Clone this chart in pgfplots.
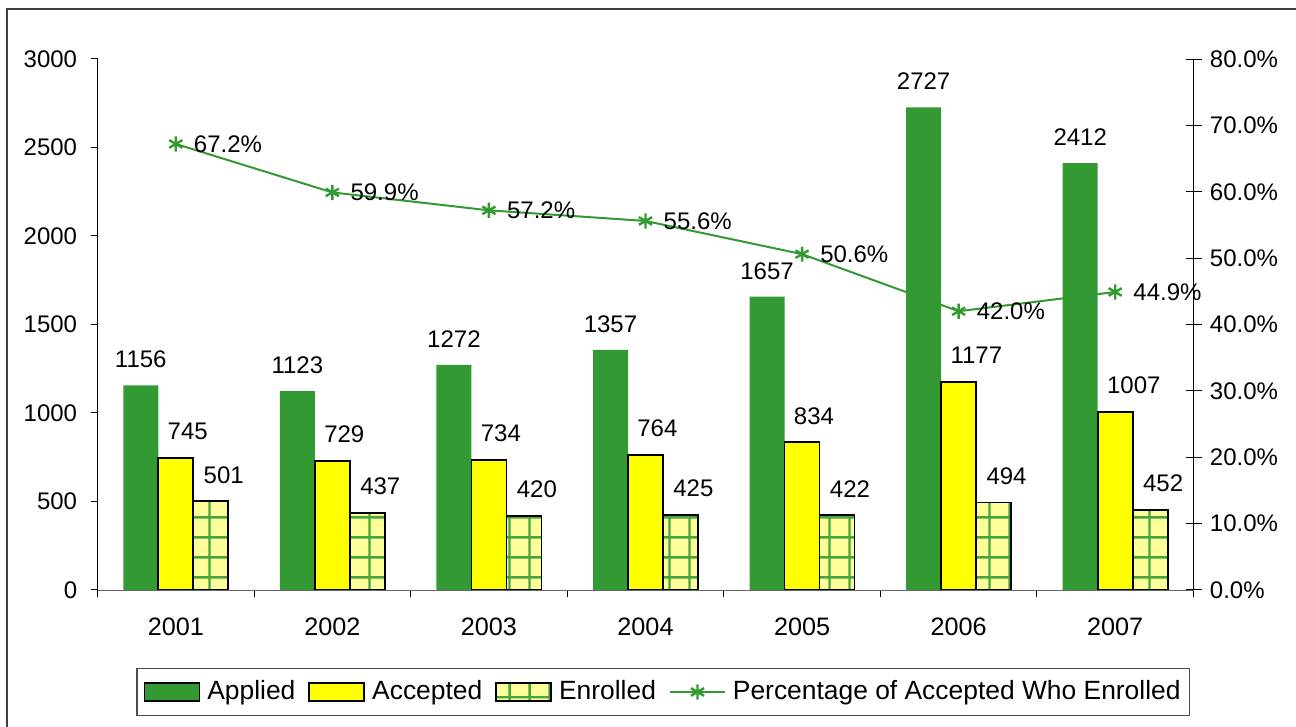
\documentclass[border=0pt]{standalone}
\usepackage{fontspec}
\setmainfont{Liberation Sans}
\usepackage{pgfplots}
\pgfplotsset{compat=1.18}
\usetikzlibrary{patterns.meta}
\definecolor{appgreen}{RGB}{51,153,51}
\definecolor{accyellow}{RGB}{255,255,0}
\definecolor{enrfill}{RGB}{255,255,153}
\definecolor{gridgreen}{RGB}{70,165,60}
\tikzdeclarepattern{
  name=bigrid,
  type=uncolored,
  bounding box={(0pt,0pt) and (10pt,10pt)},
  tile size={(10pt,10pt)},
  code={
    \draw[line width=1.2pt] (-0.5pt,5pt) -- (10.5pt,5pt);
    \draw[line width=1.2pt] (5pt,-0.5pt) -- (5pt,10.5pt);
  }
}
\pgfplotsset{
  /pgf/number format/assume math mode=true,
  /pgf/number format/1000 sep={},
  /pgfplots/area legend/.style={legend image code/.code={\draw[##1] (0pt,-4.5pt) rectangle (27.5pt,4.5pt);}},
  linelegend/.style={legend image code/.code={%
    \draw[##1, sharp plot, mark=none] (0pt,0pt) -- (27.5pt,0pt);
    \draw[##1, sharp plot] plot coordinates {(13.75pt,0pt)};}},
}
\begin{document}
\fontsize{12}{14}\selectfont
\begin{tikzpicture}
\useasboundingbox (0,0) rectangle (648pt,363.5pt);
\draw[line width=1pt, black!75] (3.5pt,0) -- (3.5pt,359pt) -- (648pt,359pt);
\begin{axis}[
  at={(48.75pt,68.5pt)}, anchor=south west,
  width=548pt, height=265.5pt, scale only axis,
  xmin=-0.5, xmax=6.5, ymin=0, ymax=3000,
  ybar=0pt, bar width=17.5pt,
  axis x line*=bottom, axis y line*=left,
  x axis line style={-, black!60}, y axis line style={-, black},
  xtick={-0.5,0.5,...,6.5}, xticklabels={},
  extra x ticks={0,1,2,3,4,5,6},
  extra x tick labels={2001,2002,2003,2004,2005,2006,2007},
  extra x tick style={major tick length=0pt, xticklabel style={yshift=-10pt, font=\fontsize{12.6}{14}\selectfont}},
  ytick={0,500,...,3000},
  tick align=outside, major tick length=3.5pt,
  tick style={black, line width=0.5pt},
  yticklabel style={xshift=-2.5pt},
  nodes near coords,
  every node near coord/.append style={black, yshift=4.5pt},
  legend style={at={(0.0351,-0.192)}, anchor=west, legend columns=-1,
    draw=black!70, line width=0.8pt, inner xsep=3.5pt, inner ysep=5pt,
    font=\fontsize{13.2}{15}\selectfont,
    nodes={inner sep=1pt},
    /tikz/every odd column/.append style={column sep=2.5pt},
    /tikz/every even column/.append style={column sep=5.5pt}},
]
\addplot[fill=appgreen, draw=none, area legend] coordinates {
  (0,1156) (1,1123) (2,1272) (3,1357) (4,1657) (5,2727) (6,2412)};
\addplot[fill=accyellow, draw=black, line width=0.9pt, area legend,
  every node near coord/.append style={anchor=south west, xshift=-8.5pt}] coordinates {
  (0,745) (1,729) (2,734) (3,764) (4,834) (5,1177) (6,1007)};
\addplot[fill=enrfill, draw=black, line width=0.9pt, area legend,
  postaction={pattern color=gridgreen, pattern=bigrid},
  every node near coord/.append style={anchor=south west, xshift=-8pt}] coordinates {
  (0,501) (1,437) (2,420) (3,425) (4,422) (5,494) (6,452)};
\addlegendimage{linelegend, color=appgreen, line width=1pt, mark=asterisk, mark size=3.8pt, mark options={line width=1.2pt}}
\legend{Applied, Accepted, Enrolled, Percentage of Accepted Who Enrolled}
\end{axis}
\begin{axis}[
  at={(48.75pt,68.5pt)}, anchor=south west,
  width=548pt, height=265.5pt, scale only axis,
  xmin=-0.5, xmax=6.5, ymin=0, ymax=80,
  axis x line=none, axis y line*=right,
  y axis line style={-, black},
  ytick={0,10,...,80},
  yticklabels={0.0\%,10.0\%,20.0\%,30.0\%,40.0\%,50.0\%,60.0\%,70.0\%,80.0\%},
  tick align=center, major tick length=8pt,
  tick style={black, line width=0.5pt},
]
\addplot[color=appgreen, line width=1pt, mark=asterisk, mark size=3.8pt, mark options={line width=1.2pt},
  nodes near coords={\pgfmathprintnumber[fixed,fixed zerofill,precision=1]{\pgfplotspointmeta}\%},
  every node near coord/.append style={black, anchor=west, xshift=4.5pt}]
  coordinates {(0,67.2) (1,59.9) (2,57.2) (3,55.6) (4,50.6) (5,42.0) (6,44.9)};
\end{axis}
\end{tikzpicture}
\end{document}
